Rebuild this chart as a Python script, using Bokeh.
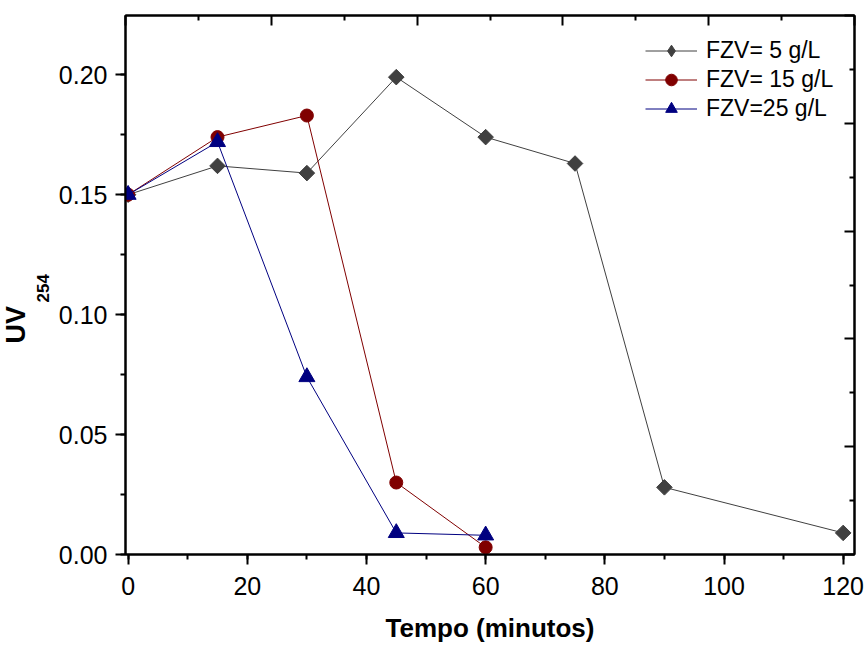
import numpy as np
from bokeh.plotting import figure
from bokeh.models import (Range1d, LinearAxis, FixedTicker, SingleIntervalTicker,
                          PrintfTickFormatter, Legend, LegendItem, Title)
from bokeh.embed import file_html
from bokeh.resources import INLINE

# ---- data ----
tempo_5 = [0, 15, 30, 45, 60, 75, 90, 120]
uv_5 = [0.150, 0.162, 0.159, 0.199, 0.174, 0.163, 0.028, 0.009]

tempo_15 = [0, 15, 30, 45, 60]
uv_15 = [0.150, 0.174, 0.183, 0.030, 0.003]

tempo_25 = [0, 15, 30, 45, 60]
uv_25 = [0.150, 0.172, 0.074, 0.009, 0.008]

series_names = ["FZV= 5 g/L", "FZV= 15 g/L", "FZV=25 g/L"]
x_label = "Tempo (minutos)"
y_label_main = "UV"
y_label_sub = "254"

# frame ticks on the opposite axes (inward, no labels)
frame_major = [0, 1, 2, 3, 4, 5]
frame_minor = [0.5, 1.5, 2.5, 3.5, 4.5]

FONT = "Liberation Sans"
GRAY = "#404040"
RED = "#800000"
BLUE = "#000080"

XMIN, XMAX = -0.44, 121.9
YMIN, YMAX = 0.0, 0.2247

p = figure(width=866, height=645, output_backend="svg", toolbar_location=None,
           x_range=Range1d(XMIN, XMAX), y_range=Range1d(YMIN, YMAX),
           x_axis_location=None, y_axis_location=None,
           min_border_left=125, min_border_right=12, min_border_top=15, min_border_bottom=91)
p.grid.visible = False
p.outline_line_color = "black"
p.outline_line_width = 2
p.background_fill_color = "white"
p.border_fill_color = "white"

p.extra_x_ranges = {"top": Range1d(0, 5)}
p.extra_y_ranges = {"right": Range1d(0, 5)}

def style_axis(ax):
    ax.axis_line_width = 2
    ax.axis_line_color = "black"
    ax.major_tick_line_width = 2
    ax.minor_tick_line_width = 2
    ax.major_tick_line_color = "black"
    ax.minor_tick_line_color = "black"
    ax.major_label_text_font = FONT
    ax.major_label_text_font_size = "25px"
    ax.major_label_text_color = "black"

xaxis = LinearAxis(ticker=SingleIntervalTicker(interval=20, num_minor_ticks=2))
style_axis(xaxis)
xaxis.major_tick_out = 10
xaxis.major_tick_in = 0
xaxis.minor_tick_out = 5
xaxis.minor_tick_in = 0
xaxis.major_label_standoff = 12
xaxis.axis_label = x_label
xaxis.axis_label_text_font = FONT
xaxis.axis_label_text_font_size = "26px"
xaxis.axis_label_text_font_style = "bold"
xaxis.axis_label_text_color = "black"
xaxis.axis_label_standoff = 15
p.add_layout(xaxis, "below")

yaxis = LinearAxis(ticker=SingleIntervalTicker(interval=0.05, num_minor_ticks=2),
                   formatter=PrintfTickFormatter(format="%.2f"))
style_axis(yaxis)
yaxis.major_tick_out = 10
yaxis.major_tick_in = 0
yaxis.minor_tick_out = 5
yaxis.minor_tick_in = 0
yaxis.major_label_standoff = 8
p.add_layout(yaxis, "left")

def frame_axis(ax):
    style_axis(ax)
    ax.ticker = FixedTicker(ticks=frame_major, minor_ticks=frame_minor)
    ax.major_tick_in = 10
    ax.major_tick_out = 0
    ax.minor_tick_in = 5
    ax.minor_tick_out = 0
    ax.major_label_overrides = {t: "" for t in frame_major}
    ax.major_label_text_font_size = "1px"
    ax.major_label_standoff = 0

top = LinearAxis(x_range_name="top")
frame_axis(top)
p.add_layout(top, "above")
right = LinearAxis(y_range_name="right")
frame_axis(right)
p.add_layout(right, "right")

# ---- y label with subscript, as two side titles ----
sub_title = Title(text=y_label_sub, align="left", offset=252, standoff=13,
                  text_font=FONT, text_font_size="17px", text_font_style="bold",
                  text_color="black")
p.add_layout(sub_title, "left")
main_title = Title(text=y_label_main, align="left", offset=211, standoff=-5,
                   text_font=FONT, text_font_size="27px", text_font_style="bold",
                   text_color="black")
p.add_layout(main_title, "left")

# ---- series ----
l1 = p.line(tempo_5, uv_5, line_color=GRAY, line_width=1)
m1 = p.scatter(tempo_5, uv_5, marker="square", size=11, angle=np.pi / 4,
               fill_color=GRAY, line_color=GRAY)
l2 = p.line(tempo_15, uv_15, line_color=RED, line_width=1)
m2 = p.scatter(tempo_15, uv_15, marker="circle", size=13,
               fill_color=RED, line_color=RED)
l3 = p.line(tempo_25, uv_25, line_color=BLUE, line_width=1)
m3 = p.scatter(tempo_25, uv_25, marker="triangle", size=16,
               fill_color=BLUE, line_color=BLUE)

# legend-only diamond key (the legend does not draw marker rotation); NaN -> not drawn in plot
key1 = p.scatter(x=[np.nan], y=[np.nan], marker="diamond", fill_color=GRAY, line_color=GRAY)

legend = Legend(items=[LegendItem(label=series_names[0], renderers=[l1, key1]),
                       LegendItem(label=series_names[1], renderers=[l2, m2]),
                       LegendItem(label=series_names[2], renderers=[l3, m3])],
                location=(520, 431), padding=0, margin=0, spacing=0,
                glyph_width=52, glyph_height=29, label_height=29, label_standoff=9,
                label_text_font=FONT, label_text_font_size="23px", label_text_color="black",
                border_line_color=None, background_fill_alpha=0)
p.add_layout(legend, "center")

open("out.html", "w").write(file_html(p, INLINE))
